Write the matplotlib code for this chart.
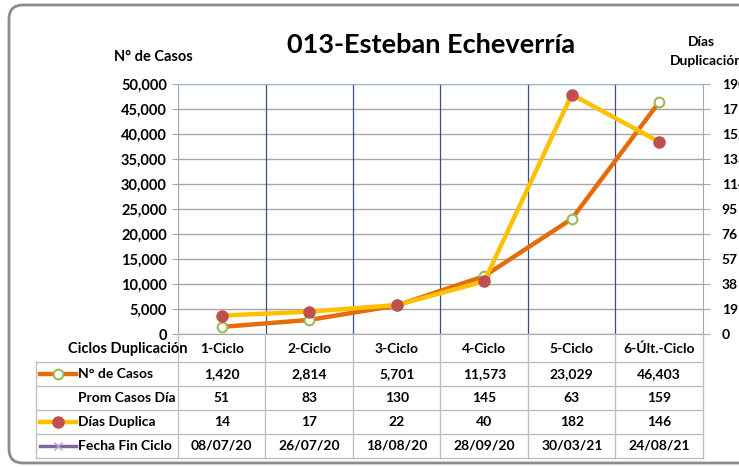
import numpy as np
import matplotlib.pyplot as plt
from matplotlib.patches import FancyBboxPatch
from matplotlib.transforms import IdentityTransform
from matplotlib.ticker import FuncFormatter

# datos
ciclos = ['1-Ciclo', '2-Ciclo', '3-Ciclo', '4-Ciclo', '5-Ciclo', '6-Últ.-Ciclo']
casos = [1420, 2814, 5701, 11573, 23029, 46403]
prom_casos = [51, 83, 130, 145, 63, 159]
dias_duplica = [14, 17, 22, 40, 182, 146]
fecha_fin = ['08/07/20', '26/07/20', '18/08/20', '28/09/20', '30/03/21', '24/08/21']

plt.rcParams['font.family'] = ['Lato', 'DejaVu Sans']
plt.rcParams['font.weight'] = 'bold'

W, H = 739, 467
fig = plt.figure(figsize=(W / 100, H / 100), dpi=100)


def fx(px):
    return px / W


def fy(py):
    return 1 - py / H


# marco redondeado
frame = FancyBboxPatch((9, H - 463), 760, 458, boxstyle='round,pad=0,rounding_size=14',
                       transform=IdentityTransform(), fill=False, ec='#8c8c8c', lw=2)
fig.patches.append(frame)

# ejes principales
L, R, T, B = 178, 703, 84, 334
ax = fig.add_axes([fx(L), fy(B), fx(R) - fx(L), fy(T) - fy(B)])
x = np.arange(len(ciclos))
ax.set_xlim(-0.5, len(ciclos) - 0.5)
ax.set_ylim(0, 50000)
ax.set_yticks(np.arange(0, 50001, 5000))
ax.yaxis.set_major_formatter(FuncFormatter(lambda v, p: f'{v:,.0f}'))
ax.set_xticks([])
ax.grid(axis='y', color='#a6a6a6', lw=1)
ax.set_axisbelow(True)
for b in np.arange(0.5, len(ciclos) - 1, 1):
    ax.axvline(b, color='#3a5082', lw=0.9, zorder=1)
for s in ['left', 'right', 'bottom']:
    ax.spines[s].set_color('#a6a6a6')
ax.spines['top'].set_color('#95b3d7')
ax.tick_params(axis='y', length=4, color='#a6a6a6', labelsize=10.5, pad=4)

ax.plot(x, casos, color='#e46c0a', lw=3.2, marker='o', ms=7, mfc='white',
        mec='#9bbb59', mew=1.5, zorder=3)

ax2 = ax.twinx()
ax2.set_ylim(0, 190)
ax2.set_yticks(np.arange(0, 191, 19))
ax2.tick_params(axis='y', length=5, color='#a6a6a6', labelsize=10, pad=8.5)
for s in ax2.spines.values():
    s.set_visible(False)
ax2.plot(x, dias_duplica, color='#ffc000', lw=3.2, marker='o', ms=8, mfc='#c0504d',
         mec='#c0504d', zorder=3)

# textos
fig.text(fx(431), fy(45), '013-Esteban Echeverría', fontsize=19.5, ha='center', va='center')
fig.text(fx(153), fy(57), 'N° de Casos', fontsize=10.5, ha='center', va='center')
fig.text(fx(701), fy(42), 'Días', fontsize=10, ha='center', va='center')
fig.text(fx(670), fy(61), 'Duplicación', fontsize=10, ha='left', va='center')

# tabla de datos
TL = 36
colw = (R - L) / len(ciclos)
tab = fig.add_axes([fx(TL), fy(458), fx(R) - fx(TL), fy(B) - fy(458)])
tab.set_xlim(-0.5 - (L - TL) / colw, len(ciclos) - 0.5)
tab.set_ylim(458, B)
tab.axis('off')


def cx(px):
    return (px - L) / colw - 0.5


grid_c = '#c0c0c0'
rows_y = [362, 386, 410, 434, 458]
x0 = cx(TL)
for yy in rows_y:
    tab.plot([x0, len(ciclos) - 0.5], [yy, yy], color=grid_c, lw=1, clip_on=False)
tab.plot([x0, x0], [362, 458], color=grid_c, lw=1, clip_on=False)
for b in np.arange(-0.5, len(ciclos), 1):
    tab.plot([b, b], [B, 458], color=grid_c, lw=1, clip_on=False)

fs = 10
tab.text(cx(128), 349, 'Ciclos Duplicación', fontsize=10.5, ha='center', va='center')
row_vals = [[f'{v:,}' for v in casos], [str(v) for v in prom_casos],
            [str(v) for v in dias_duplica], fecha_fin]
row_names = ['N° de Casos', 'Prom Casos Día', 'Días Duplica', 'Fecha Fin Ciclo']
centers = [374, 398, 422, 446]
for i, c in enumerate(ciclos):
    tab.text(i, 349, c, fontsize=fs, ha='center', va='center')
for yc, name, vals in zip(centers, row_names, row_vals):
    tab.text(cx(78), yc, name, fontsize=fs, ha='left', va='center')
    for i, v in enumerate(vals):
        tab.text(i, yc, v, fontsize=fs, ha='center', va='center')

# claves de leyenda
kx = [cx(40), cx(76)]
km = cx(58)
tab.plot(kx, [374, 374], color='#e46c0a', lw=3.2)
tab.plot([km], [374], marker='o', ms=7, mfc='white', mec='#9bbb59', mew=1.5)
tab.plot(kx, [422, 422], color='#ffc000', lw=3.2)
tab.plot([km], [422], marker='o', ms=8, mfc='#c0504d', mec='#c0504d')
tab.plot(kx, [446, 446], color='#8064a2', lw=2.5)
tab.plot([km], [446], marker='x', ms=6, mec='#b3a2c7', mew=1)

fig.savefig('out.png', dpi=100)
